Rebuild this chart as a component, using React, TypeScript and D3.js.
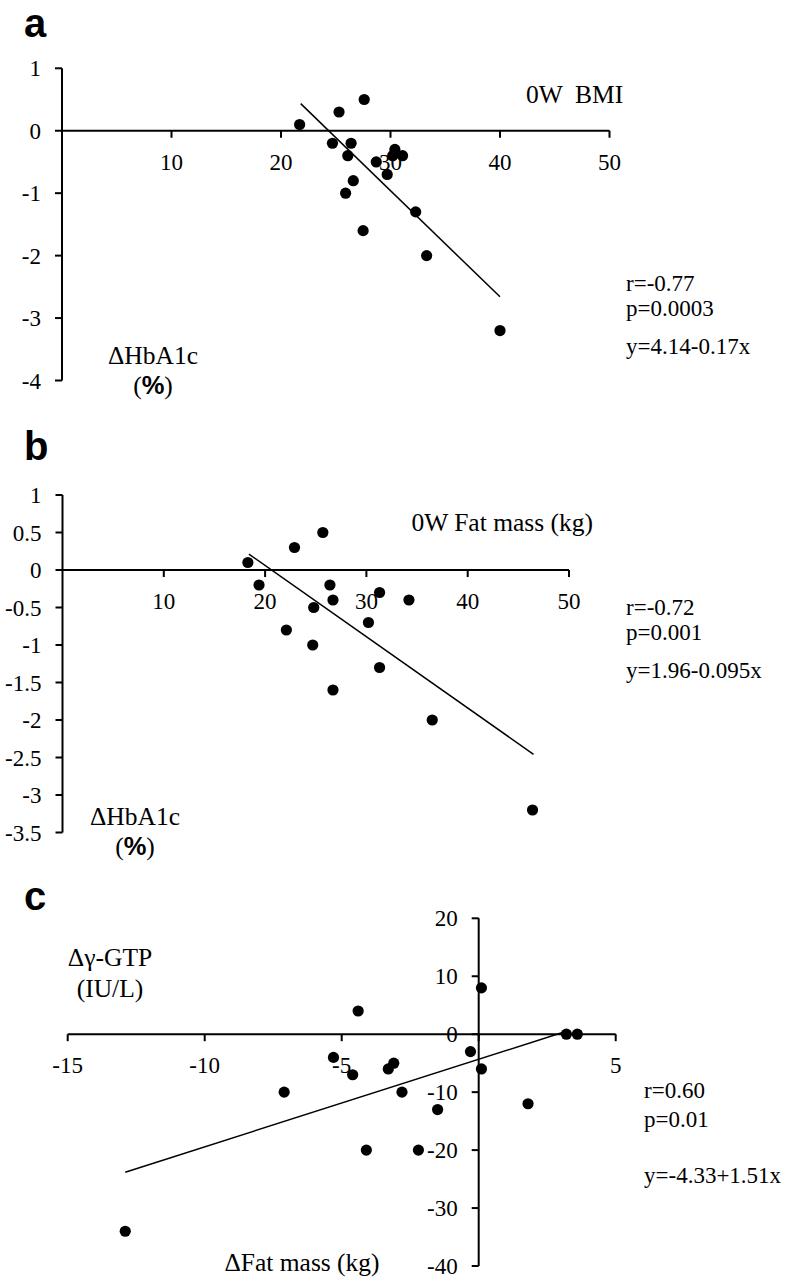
import React from 'react';
import * as d3 from 'd3';

// panel a: 0W BMI vs ΔHbA1c
const bmiA = [21.7, 24.7, 25.3, 26.4, 26.1, 26.6, 25.9, 27.6, 28.7, 30.4, 30.2, 31.1, 29.7, 32.3, 27.5, 33.3, 40.0];
const hbaA = [0.1, -0.2, 0.3, -0.2, -0.4, -0.8, -1.0, 0.5, -0.5, -0.3, -0.4, -0.4, -0.7, -1.3, -1.6, -2.0, -3.2];
const fitA = { a: 4.14, b: -0.17, from: 21.8, to: 40 };

// panel b: 0W fat mass vs ΔHbA1c
const fatB = [18.3, 22.9, 25.7, 19.4, 26.4, 26.7, 24.8, 31.3, 34.2, 30.2, 22.1, 24.7, 31.3, 26.7, 36.5, 46.4];
const hbaB = [0.1, 0.3, 0.5, -0.2, -0.2, -0.4, -0.5, -0.3, -0.4, -0.7, -0.8, -1.0, -1.3, -1.6, -2.0, -3.2];
const fitB = { a: 1.96, b: -0.095, from: 18.4, to: 46.5 };

// panel c: Δfat mass vs Δγ-GTP
const dFatC = [-4.4, -5.3, -4.6, -7.1, -3.3, -3.1, -4.1, -12.9, -2.8, -1.5, -2.2, -0.3, 0.1, 0.1, 1.8, 3.2, 3.6];
const gtpC = [4, -4, -7, -10, -6, -5, -20, -34, -10, -13, -20, -3, 8, -6, -12, 0, 0];
const fitC = { a: -4.33, b: 1.51, from: -12.9, to: 3.2 };

const xTicksA = [10, 20, 30, 40, 50];
const yTicksA = [1, 0, -1, -2, -3, -4];
const xTicksB = [10, 20, 30, 40, 50];
const yTicksB = [1, 0.5, 0, -0.5, -1, -1.5, -2, -2.5, -3, -3.5];
const xTicksC = [-15, -10, -5, 0, 5];
const xLabelsC = [-15, -10, -5, 5];
const yTicksC = [20, 10, 0, -10, -20, -30, -40];

const serif = 'Liberation Serif, Times New Roman, serif';
const sans = 'Liberation Sans, Arial, sans-serif';
const fs = 23;   // ticks and stats
const ts = 25.5; // axis titles

function Panel({ xs, ys, xd, yd, xr, yr, xTicks, xLabels, yTicks, fit, stats, statX, statY }) {
  const x = d3.scaleLinear().domain(xd).range(xr);
  const y = d3.scaleLinear().domain(yd).range(yr);
  const x0 = x(0), y0 = y(0);
  const line = d3.line().x(d => x(d[0])).y(d => y(d[1]));
  const fitPts = [fit.from, fit.to].map(v => [v, fit.a + fit.b * v]);
  return (
    <g>
      <line x1={x0} x2={x0} y1={y(yd[0])} y2={y(yd[1])} stroke="#000" strokeWidth={2} />
      <line x1={x(xd[0])} x2={x(xd[1])} y1={y0} y2={y0} stroke="#000" strokeWidth={2} />
      {yTicks.map(t => (
        <g key={'y' + t}>
          <line x1={x0 - 7} x2={x0} y1={y(t)} y2={y(t)} stroke="#000" strokeWidth={2} />
          <text x={x0 - 21} y={y(t)} dy="0.35em" textAnchor="end" fontFamily={serif} fontSize={fs}>{String(t)}</text>
        </g>
      ))}
      {xTicks.map(t => (
        <line key={'xt' + t} x1={x(t)} x2={x(t)} y1={y0} y2={y0 + 7} stroke="#000" strokeWidth={2} />
      ))}
      {xLabels.map(t => (
        <text key={'xl' + t} x={x(t)} y={y0 + 39} textAnchor="middle" fontFamily={serif} fontSize={fs}>{String(t)}</text>
      ))}
      <path d={line(fitPts)} fill="none" stroke="#000" strokeWidth={1.5} />
      {xs.map((v, i) => (
        <circle key={i} cx={x(v)} cy={y(ys[i])} r={5.6} fill="#000" />
      ))}
      {stats.map((s, i) => (
        <text key={'s' + i} x={statX} y={statY[i]} fontFamily={serif} fontSize={fs}>{s}</text>
      ))}
    </g>
  );
}

export default function App() {
  return (
    <svg width={786} height={1282} viewBox="0 0 786 1282"
      style={{ position: 'absolute', left: 0, top: 0, background: '#fff' }}>
      <text x={24} y={37} fontFamily={sans} fontWeight="bold" fontSize={40}>a</text>
      <Panel xs={bmiA} ys={hbaA} xd={[0, 50]} yd={[1, -4]} xr={[62, 609.5]} yr={[68.3, 380.5]}
        xTicks={xTicksA} xLabels={xTicksA} yTicks={yTicksA} fit={fitA}
        stats={['r=-0.77', 'p=0.0003', 'y=4.14-0.17x']} statX={626} statY={[291, 316, 354]} />
      <text x={526} y={103} fontFamily={serif} fontSize={ts} style={{ whiteSpace: 'pre' }}>{'0W  BMI'}</text>
      <text x={153} y={364} textAnchor="middle" fontFamily={serif} fontSize={ts}>ΔHbA1c</text>
      <text x={153} y={394} textAnchor="middle" fontFamily={serif} fontSize={ts}>
        (<tspan fontFamily={sans} fontWeight="bold">%</tspan>)
      </text>

      <text x={24} y={460} fontFamily={sans} fontWeight="bold" fontSize={40}>b</text>
      <Panel xs={fatB} ys={hbaB} xd={[0, 50]} yd={[1, -3.5]} xr={[62.5, 569]} yr={[495, 832.5]}
        xTicks={xTicksB} xLabels={xTicksB} yTicks={yTicksB} fit={fitB}
        stats={['r=-0.72', 'p=0.001', 'y=1.96-0.095x']} statX={626} statY={[615, 640, 678]} />
      <text x={593} y={531} textAnchor="end" fontFamily={serif} fontSize={ts}>0W Fat mass (kg)</text>
      <text x={135} y={825} textAnchor="middle" fontFamily={serif} fontSize={ts}>ΔHbA1c</text>
      <text x={135} y={855} textAnchor="middle" fontFamily={serif} fontSize={ts}>
        (<tspan fontFamily={sans} fontWeight="bold">%</tspan>)
      </text>

      <text x={24} y={910} fontFamily={sans} fontWeight="bold" fontSize={40}>c</text>
      <Panel xs={dFatC} ys={gtpC} xd={[-15, 5]} yd={[20, -40]} xr={[67.7, 615.7]} yr={[918.3, 1266]}
        xTicks={xTicksC} xLabels={xLabelsC} yTicks={yTicksC} fit={fitC}
        stats={['r=0.60', 'p=0.01', 'y=-4.33+1.51x']} statX={644} statY={[1098, 1127, 1183]} />
      <text x={110} y={966} textAnchor="middle" fontFamily={serif} fontSize={ts}>Δγ-GTP</text>
      <text x={110} y={997} textAnchor="middle" fontFamily={serif} fontSize={ts}>(IU/L)</text>
      <text x={302} y={1271} textAnchor="middle" fontFamily={serif} fontSize={ts}>ΔFat mass (kg)</text>
    </svg>
  );
}
